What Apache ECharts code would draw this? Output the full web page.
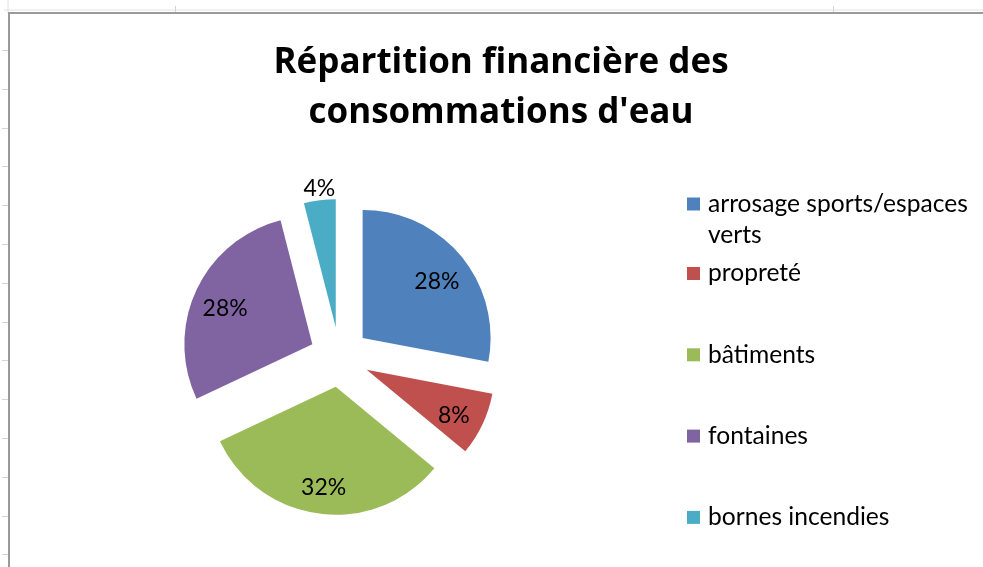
<!DOCTYPE html>
<html>
<head>
<meta charset="utf-8">
<script src="https://cdn.jsdelivr.net/npm/echarts@6/dist/echarts.min.js"></script>
<style>
  html, body { margin: 0; padding: 0; background: #ffffff; }
  #chart { width: 983px; height: 567px; }
</style>
</head>
<body>
<div id="chart"></div>
<script>
// Water consumption spending, by use (percent of total)
const categories = ['arrosage sports/espaces verts', 'propreté', 'bâtiments', 'fontaines', 'bornes incendies'];
const shares = [28, 8, 32, 28, 4];
const colors = ['#4F81BD', '#C0504D', '#9BBB59', '#8064A2', '#4BACC6'];
const titleText = "Répartition financière des\nconsommations d'eau";

const FONT = 'Lato, "Open Sans", sans-serif';
const TITLE_FONT = '"Open Sans", Lato, sans-serif';
const LEGEND_SIZE = 24.6;
const PIE_CENTER = [339.5, 357];
const PIE_RADIUS = 128;
const EXPLODE = 30;
// inside labels sit at ~3/4 of the radius; ECharts puts inside labels at half the radius
const LABEL_RING = PIE_RADIUS * 0.73 * 2;
const SMALL_SLICE = 4; // slices this small get their label outside

const pctLabel = p => p.value + '%';
const pctLabelRich = p => '{v|' + p.value + '%}';

const sliceData = categories.map((name, i) => {
  const item = {
    name: name,
    value: shares[i],
    selected: true,
    itemStyle: { color: colors[i] }
  };
  if (shares[i] <= SMALL_SLICE) {
    item.label = {
      show: true,
      position: 'outside',
      formatter: pctLabel,
      fontFamily: FONT,
      fontSize: 23,
      color: '#000',
      distanceToLabelLine: -17
    };
    item.labelLine = { show: false, length: 12, length2: 0 };
  }
  return item;
});

const labelData = categories.map((name, i) => ({
  name: name,
  value: shares[i],
  selected: true,
  label: { show: shares[i] > SMALL_SLICE }
}));

// spreadsheet frame around the chart object
const frame = [];
frame.push({ type: 'line', shape: { x1: 4, y1: 10, x2: 983, y2: 10 }, style: { stroke: '#e2e2e2', lineWidth: 1 }, silent: true });
frame.push({ type: 'line', shape: { x1: 8, y1: 0, x2: 8, y2: 13 }, style: { stroke: '#e2e2e2', lineWidth: 1 }, silent: true });
for (let y = 50; y < 567; y += 38.8) {
  frame.push({ type: 'line', shape: { x1: 2, y1: Math.round(y) + 0.5, x2: 8, y2: Math.round(y) + 0.5 }, style: { stroke: '#d4d4d4', lineWidth: 1 }, silent: true });
}
[175, 833].forEach(x => {
  frame.push({ type: 'line', shape: { x1: x + 0.5, y1: 6, x2: x + 0.5, y2: 12 }, style: { stroke: '#d4d4d4', lineWidth: 1 }, silent: true });
});
frame.push({ type: 'line', shape: { x1: 9, y1: 13, x2: 983, y2: 13 }, style: { stroke: '#9a9a9a', lineWidth: 2 }, silent: true });
frame.push({ type: 'line', shape: { x1: 9, y1: 12, x2: 9, y2: 567 }, style: { stroke: '#9a9a9a', lineWidth: 2 }, silent: true });

const legendRich = { fontFamily: FONT, fontSize: LEGEND_SIZE, color: '#000', lineHeight: 31 };
// first legend entry wraps onto two lines, the swatch stays on the first one
const wrapName = name => name.replace('espaces verts', 'espaces\nverts')
  .split('\n').map(s => '{t|' + s + '}').join('\n');

const chart = echarts.init(document.getElementById('chart'), null, { renderer: 'canvas' });
chart.setOption({
  backgroundColor: '#ffffff',
  animation: false,
  color: colors,
  title: {
    text: titleText,
    left: 501,
    textAlign: 'center',
    top: 38,
    padding: 0,
    textStyle: { fontFamily: TITLE_FONT, fontSize: 35, fontWeight: 'bold', color: '#000', lineHeight: 50 }
  },
  legend: [
    {
      orient: 'vertical',
      left: 687,
      top: 191.5,
      padding: 0,
      icon: 'rect',
      itemWidth: 13,
      itemHeight: 13,
      selectedMode: false,
      itemStyle: { borderWidth: 0 },
      formatter: wrapName,
      textStyle: { padding: [31, 0, 0, 3], rich: { t: legendRich } },
      data: [categories[0]]
    },
    {
      orient: 'vertical',
      left: 687,
      top: 258.5,
      padding: 0,
      icon: 'rect',
      itemWidth: 13,
      itemHeight: 13,
      itemGap: 51.3,
      selectedMode: false,
      itemStyle: { borderWidth: 0 },
      textStyle: { fontFamily: FONT, fontSize: LEGEND_SIZE, color: '#000', lineHeight: 30, padding: [0, 0, 0, 3] },
      data: categories.slice(1)
    }
  ],
  series: [
    {
      type: 'pie',
      name: 'slices',
      z: 2,
      center: PIE_CENTER,
      radius: PIE_RADIUS,
      startAngle: 90,
      clockwise: true,
      selectedMode: 'multiple',
      selectedOffset: EXPLODE,
      avoidLabelOverlap: false,
      itemStyle: { borderWidth: 0 },
      label: { show: false },
      labelLine: { show: false },
      emphasis: { scale: false },
      data: sliceData
    },
    {
      // invisible twin carrying the inside percentage labels
      type: 'pie',
      name: 'labels',
      z: 5,
      center: PIE_CENTER,
      radius: LABEL_RING,
      startAngle: 90,
      clockwise: true,
      selectedMode: 'multiple',
      selectedOffset: EXPLODE,
      avoidLabelOverlap: false,
      silent: true,
      legendHoverLink: false,
      itemStyle: { color: 'rgba(255,255,255,0)', borderWidth: 0 },
      label: {
        show: true,
        position: 'inside',
        formatter: pctLabelRich,
        padding: [10, 0, 0, 0],
        rich: { v: { fontFamily: FONT, fontSize: 23, color: '#000' } },
        opacity: 1
      },
      labelLine: { show: false },
      emphasis: { scale: false },
      data: labelData
    }
  ],
  graphic: frame
});
</script>
</body>
</html>
